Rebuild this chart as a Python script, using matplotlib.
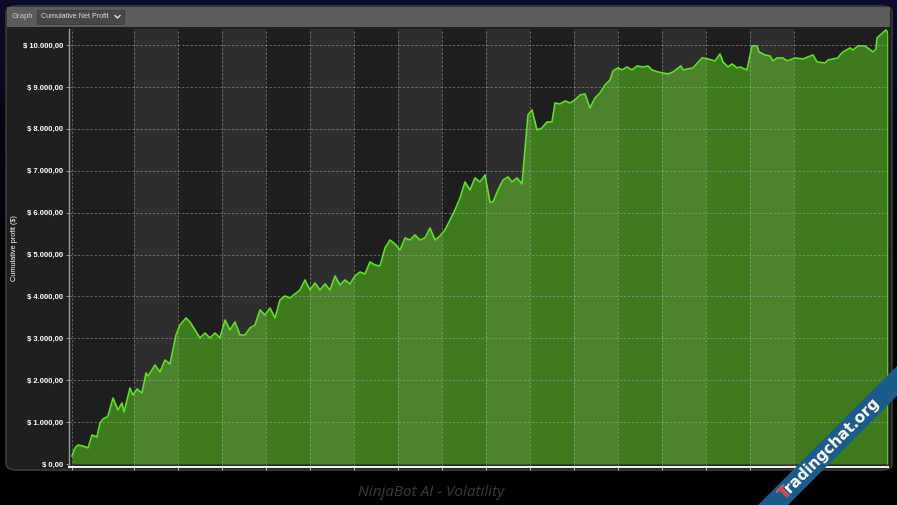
import matplotlib
matplotlib.use("Agg")
import matplotlib.pyplot as plt
import numpy as np
from matplotlib.patches import FancyBboxPatch, Rectangle, Polygon
from matplotlib.lines import Line2D
from matplotlib.colors import LinearSegmentedColormap

# ---------------- data ----------------
trade = [0, 3, 6, 11, 16, 20, 25, 28, 31, 35, 36, 41, 46, 50, 52, 58, 61, 65, 70, 74,
         76, 78, 83, 88, 93, 98, 104, 108, 114, 118, 123, 128, 133, 138, 143, 148, 153, 158, 163, 168,
         173, 178, 183, 188, 193, 198, 203, 208, 213, 218, 223, 228, 233, 238, 243, 248, 253, 258, 263, 268,
         273, 278, 283, 288, 293, 298, 303, 308, 313, 318, 323, 328, 333, 338, 343, 348, 353, 358, 363, 368,
         373, 378, 383, 388, 393, 398, 403, 408, 413, 418, 421, 426, 431, 436, 440, 445, 450, 453, 456, 460,
         465, 470, 475, 480, 483, 488, 493, 498, 503, 508, 513, 518, 523, 528, 533, 538, 541, 546, 550, 555,
         560, 565, 571, 576, 580, 586, 596, 601, 609, 611, 621, 630, 636, 643, 648, 651, 656, 660, 665, 668,
         675, 680, 685, 687, 693, 698, 701, 705, 711, 715, 723, 731, 741, 745, 753, 756, 766, 768, 771, 778,
         781, 786, 793, 801, 804, 805, 814, 816]
profit = [191, 382, 454, 430, 382, 692, 644, 979, 1074, 1122, 1146, 1575, 1289, 1456, 1241, 1814, 1647, 1790, 1695, 2172,
          2101, 2172, 2363, 2196, 2482, 2387, 3079, 3318, 3485, 3390, 3199, 3008, 3127, 3008, 3127, 3008, 3437, 3199, 3390, 3079,
          3079, 3246, 3318, 3676, 3557, 3724, 3485, 3915, 4010, 3962, 4058, 4153, 4392, 4153, 4320, 4153, 4297, 4153, 4488, 4273,
          4392, 4297, 4488, 4583, 4535, 4822, 4750, 4726, 5156, 5347, 5251, 5108, 5395, 5347, 5466, 5347, 5395, 5633, 5347, 5442,
          5586, 5824, 6063, 6349, 6731, 6540, 6827, 6731, 6898, 6254, 6254, 6540, 6779, 6851, 6731, 6827, 6684, 7495, 8331, 8450,
          7973, 8020, 8164, 8164, 8617, 8593, 8665, 8617, 8689, 8808, 8832, 8498, 8736, 8856, 9047, 9166, 9381, 9453, 9405, 9476,
          9405, 9500, 9476, 9500, 9405, 9357, 9309, 9357, 9500, 9405, 9453, 9691, 9667, 9620, 9787, 9596, 9476, 9548, 9453, 9476,
          9405, 9978, 9978, 9834, 9763, 9739, 9620, 9691, 9691, 9620, 9691, 9667, 9763, 9596, 9572, 9643, 9691, 9763, 9834, 9930,
          9882, 9978, 9978, 9834, 9906, 10169, 10360, 10288]
ytick_values = [0, 1000, 2000, 3000, 4000, 5000, 6000, 7000, 8000, 9000, 10000]
ytick_labels = ["$ 0,00", "$ 1.000,00", "$ 2.000,00", "$ 3.000,00", "$ 4.000,00", "$ 5.000,00",
                "$ 6.000,00", "$ 7.000,00", "$ 8.000,00", "$ 9.000,00", "$ 10.000,00"]
period_edges = [62, 106, 150, 194, 238, 282, 326, 370, 414, 458, 502, 546, 590, 634, 678, 722]

W, H = 897, 505
fig = plt.figure(figsize=(W / 100, H / 100), dpi=100)
fig.patch.set_facecolor("#000000")

def fx(px):
    return px / W

def fy(py):
    return 1 - py / H

# background gradient (navy top -> black)
bg = fig.add_axes([0, 0, 1, 1], zorder=-10)
grad = np.linspace(0, 1, 256).reshape(-1, 1)
cm = LinearSegmentedColormap.from_list("g", ["#0c0c2c", "#04040f", "#000000", "#000000"])
bg.imshow(grad, aspect="auto", cmap=cm, extent=[0, 1, 0, 1], origin="upper")
bg.set_axis_off()

# panel
panel = FancyBboxPatch((fx(6), fy(470)), fx(886), 464 / H,
                       boxstyle="round,pad=0,rounding_size=0.012",
                       transform=fig.transFigure, facecolor="#1f1f1f",
                       edgecolor="#3a3a3a", linewidth=1.2, zorder=-5)
fig.patches.append(panel)
# header bar
fig.patches.append(Rectangle((fx(7), fy(27)), fx(883), 20 / H, transform=fig.transFigure,
                             facecolor="#5c5c5c", edgecolor="none", zorder=-4))
fig.patches.append(Rectangle((fx(37), fy(24)), fx(87), 14 / H, transform=fig.transFigure,
                             facecolor="#474747", edgecolor="#3a3a3a", linewidth=0.5, zorder=-3))
fig.text(fx(12), fy(17), "Graph", fontsize=5.6, color="#c8c8c8", va="center", ha="left",
         family="Liberation Sans")
fig.text(fx(41), fy(17), "Cumulative Net Profit", fontsize=5.1, color="#dddddd", va="center",
         ha="left", family="Liberation Sans")
fig.add_artist(Line2D([fx(115), fx(117.5), fx(120)], [fy(15.5), fy(18), fy(15.5)],
                      transform=fig.transFigure, color="#dddddd", linewidth=1.0))

# main axes
x0, x1 = 69, 888
y0, y1 = 466.5, 29
ax = fig.add_axes([fx(x0), fy(y0), (x1 - x0) / W, (y0 - y1) / H])
ax.set_facecolor("#1e1e1e")
ax.set_xlim(-3, 816)
ytop = 10000 + (45 - 29) * 10000 / 419
ybot = -(y0 - 464) * 10000 / 419
ax.set_ylim(ybot, ytop)

ax.fill_between(trade, 0, profit, color="#3e7b1e", linewidth=0, zorder=2)
ax.plot(trade + [trade[-1]], profit + [0], color="#62de26", linewidth=1.2, zorder=4,
        solid_joinstyle="round")

for i in range(0, len(period_edges) - 1, 2):
    ax.axvspan(period_edges[i], period_edges[i + 1], color="white", alpha=0.075,
               linewidth=0, zorder=3)

for e in [0] + period_edges:
    ax.axvline(e, color="#b0b0b0", linestyle=(0, (3, 2)), linewidth=0.6, alpha=0.55, zorder=5)
for v in ytick_values[1:]:
    ax.axhline(v, color="#b0b0b0", linestyle=(0, (3, 2)), linewidth=0.6, alpha=0.55, zorder=5)

ax.set_yticks(ytick_values)
ax.set_yticklabels(ytick_labels, fontsize=5.5, fontweight="bold", color="white",
                   family="Liberation Sans")
ax.tick_params(axis="y", length=2.5, width=0.6, color="#aaaaaa", pad=1.5)
ax.set_xticks([0] + period_edges)
ax.set_xticklabels([])
ax.tick_params(axis="x", length=2.5, width=0.6, color="#cccccc", direction="out")

for s in ["top", "right"]:
    ax.spines[s].set_visible(False)
ax.spines["left"].set_color("#9a9a9a")
ax.spines["left"].set_linewidth(1.0)
ax.spines["bottom"].set_color("#f0f0f0")
ax.spines["bottom"].set_linewidth(1.5)
ax.spines["left"].set_zorder(6)
ax.spines["bottom"].set_zorder(6)

fig.text(fx(14), fy(248), "Cumulative profit ($)", rotation=90, fontsize=5.3, color="white",
         ha="center", va="center", family="Liberation Sans")

# caption
fig.text(fx(431), fy(493), "NinjaBot AI - Volatility", fontsize=11, color="#3a3a3a",
         style="italic", ha="center", va="center", family="Open Sans")

# watermark ribbon
rib = Polygon([[fx(758), fy(505)], [fx(897), fy(366)], [fx(897), fy(396)], [fx(788), fy(505)]],
              closed=True, transform=fig.transFigure, facecolor="#1d5b8a", edgecolor="none", zorder=20)
fig.add_artist(rib)
fig.text(fx(785), fy(500), "Tradingchat.org", rotation=45, rotation_mode="anchor",
         fontsize=11, fontweight="bold", color="white", ha="left", va="baseline",
         family="DejaVu Sans", zorder=21)
fig.text(fx(785), fy(500), "T", rotation=45, rotation_mode="anchor",
         fontsize=11, fontweight="bold", color="#e8332a", ha="left", va="baseline",
         family="DejaVu Sans", zorder=22)

fig.savefig("out.png", dpi=100, facecolor=fig.get_facecolor())
